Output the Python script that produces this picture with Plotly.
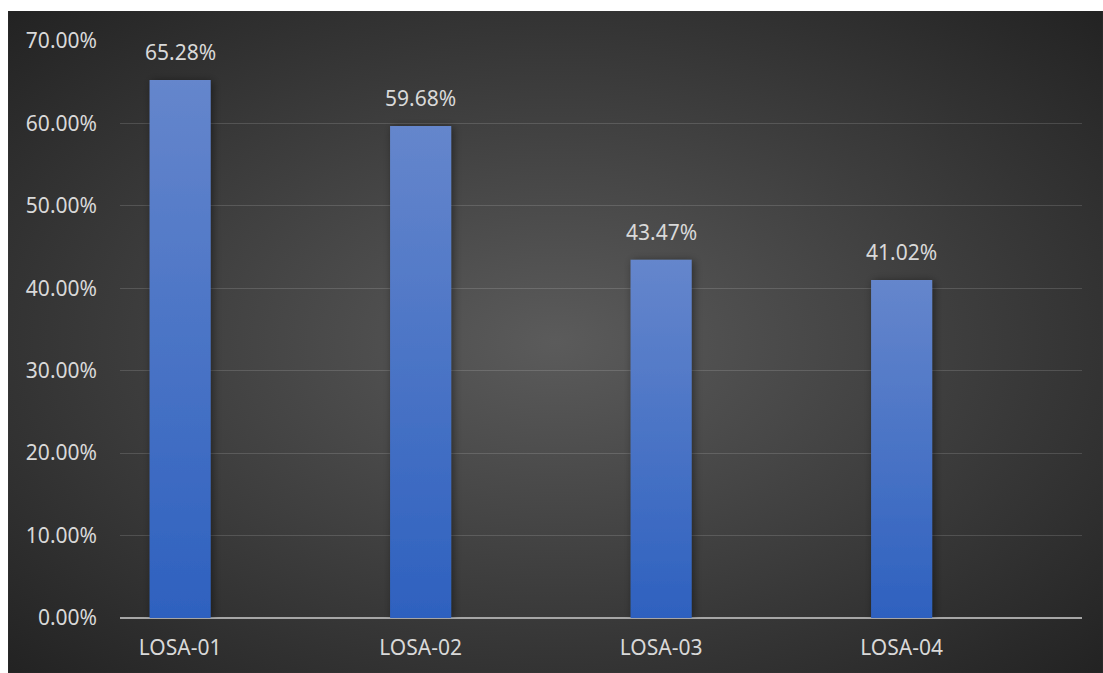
import base64
import plotly.graph_objects as go

# Slab identifiers and their percentages
categories = ["LOSA-01", "LOSA-02", "LOSA-03", "LOSA-04"]
percentages = [65.28, 59.68, 43.47, 41.02]
y_ticks = [0, 10, 20, 30, 40, 50, 60, 70]

TEXT = "#d9d9d9"
FONT = "Noto Sans"
positions = list(range(len(categories)))

# Dark radial-gradient panel behind the chart
panel_svg = (
    '<svg xmlns="http://www.w3.org/2000/svg" width="1095" height="662" '
    'viewBox="0 0 1095 662" preserveAspectRatio="none">'
    '<defs><radialGradient id="g" cx="50%" cy="50%" r="70%">'
    '<stop offset="0%" stop-color="#5b5b5b"/>'
    '<stop offset="100%" stop-color="#232323"/>'
    '</radialGradient></defs>'
    '<rect width="1095" height="662" fill="url(#g)"/></svg>'
)
panel_uri = "data:image/svg+xml;base64," + base64.b64encode(panel_svg.encode()).decode()

fig = go.Figure()
fig.add_trace(go.Bar(
    x=positions,
    y=percentages,
    width=0.254,
    marker=dict(color="#4a74c6", line=dict(width=0)),
    hovertemplate="%{customdata}: %{y:.2f}%<extra></extra>",
    customdata=categories,
))

# Value labels above each bar
for xi, v in zip(positions, percentages):
    fig.add_annotation(
        x=xi, y=v, text=f"{v:.2f}%", showarrow=False,
        yanchor="bottom", yshift=12,
        font=dict(family=FONT, size=21, color=TEXT),
    )

fig.update_layout(
    width=1103, height=673,
    margin=dict(l=120, r=21, t=41, b=55),
    paper_bgcolor="white",
    plot_bgcolor="rgba(0,0,0,0)",
    showlegend=False,
    font=dict(family=FONT, size=21, color=TEXT),
    images=[dict(
        source=panel_uri, xref="paper", yref="paper",
        x=-0.1164, y=1.052, sizex=1.1382, sizey=1.1473,
        xanchor="left", yanchor="top", sizing="stretch", layer="below",
    )],
    xaxis=dict(
        range=[-0.25, 3.75],
        tickmode="array", tickvals=positions, ticktext=categories,
        showgrid=False, zeroline=False,
        showline=False, ticks="", ticklabelstandoff=15,
        tickfont=dict(family=FONT, size=21, color=TEXT),
    ),
    yaxis=dict(
        range=[0, 70],
        tickmode="array", tickvals=y_ticks,
        ticktext=[f"{t:.2f}%" for t in y_ticks],
        showgrid=True, gridcolor="rgba(255,255,255,0.14)", gridwidth=1,
        zeroline=True, zerolinecolor="#a6a6a6", zerolinewidth=2,
        showline=False, ticks="", ticklabelstandoff=22,
        tickfont=dict(family=FONT, size=21, color=TEXT),
    ),
)

# Vertical gradient fill and soft shadow for the bars
post_script = """
(function(){
  var gd = document.getElementById('{plot_id}');
  var svg = gd.querySelector('svg.main-svg');
  var ns = 'http://www.w3.org/2000/svg';
  var defs = document.createElementNS(ns, 'defs');
  defs.innerHTML =
    '<linearGradient id="barGrad" x1="0" y1="0" x2="0" y2="1">' +
    '<stop offset="0%" stop-color="#6586cc"/>' +
    '<stop offset="100%" stop-color="#2e61bf"/>' +
    '</linearGradient>' +
    '<filter id="barShadow" x="-40%" y="-10%" width="180%" height="120%">' +
    '<feDropShadow dx="2" dy="1" stdDeviation="4" flood-color="#000" flood-opacity="0.45"/>' +
    '</filter>';
  svg.insertBefore(defs, svg.firstChild);
  gd.querySelectorAll('.trace.bars .point path').forEach(function(p){
    p.style.fill = 'url(#barGrad)';
    p.setAttribute('filter', 'url(#barShadow)');
  });
})();
"""

fig.write_html("out.html", post_script=post_script)
